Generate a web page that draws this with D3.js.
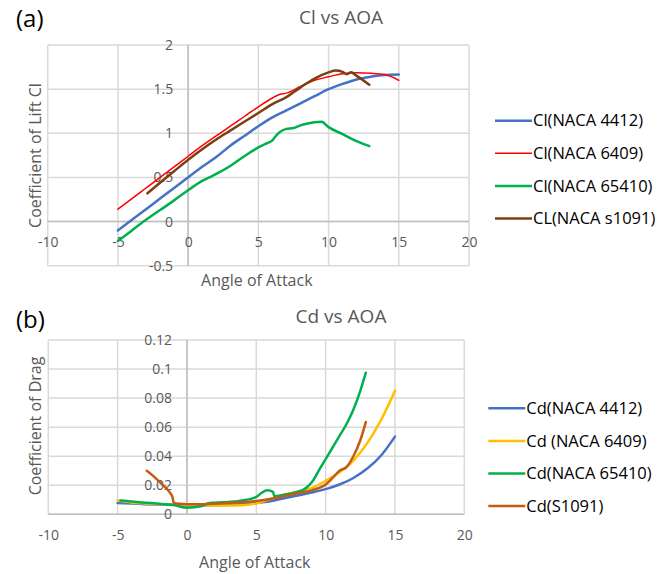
<!DOCTYPE html>
<html><head><meta charset="utf-8">
<script src="https://cdn.jsdelivr.net/npm/d3@7"></script>
<style>body{margin:0;background:#fff}svg{display:block;font-family:"Open Sans",sans-serif}</style>
</head><body><svg id="c" width="666" height="574"></svg>
<script>
// ---- tick labels ----
const xTicks = [-10, -5, 0, 5, 10, 15, 20];
const clTicks = [-0.5, 0, 0.5, 1, 1.5, 2];
const cdTicks = [0, 0.02, 0.04, 0.06, 0.08, 0.1, 0.12];

// ---- Cl series ----
const clNames = ["Cl(NACA 4412)", "Cl(NACA 6409)", "Cl(NACA 65410)", "CL(NACA s1091)"];
const aoa4412 = [-5,-4,-3,-2,-1,0,1,2,3,4,5,6,7,8,9,10,11,12,13,14,15];
const cl4412  = [-0.10,0.02,0.14,0.26,0.38,0.50,0.62,0.73,0.86,0.97,1.08,1.18,1.26,1.34,1.42,1.50,1.56,1.61,1.64,1.66,1.665];
const aoa6409 = [-5,-4,-3,-2,-1,0,1,2,3,4,5,6,6.5,7,8,9,10,11,12,13,14,15];
const cl6409  = [0.14,0.26,0.38,0.50,0.62,0.74,0.86,0.97,1.08,1.19,1.30,1.40,1.44,1.455,1.53,1.60,1.64,1.675,1.685,1.68,1.665,1.60];
const aoa65410 = [-5,-4,-3,-2,-1,0,1,1.5,2,3,4,5,5.5,6,6.2,6.5,7,7.5,8,8.5,9,9.5,10,11,12,12.9];
const cl65410  = [-0.22,-0.10,0.02,0.13,0.24,0.355,0.46,0.50,0.54,0.63,0.74,0.84,0.88,0.92,0.96,1.01,1.05,1.06,1.09,1.11,1.125,1.13,1.07,0.99,0.91,0.855];
const aoaS1091 = [-2.9,-2,-1,0,1,2,3,4,5,6,7,8,9,10,10.5,11,11.3,11.6,12,12.9];
const clS1091  = [0.32,0.44,0.57,0.70,0.82,0.93,1.03,1.13,1.23,1.33,1.41,1.52,1.62,1.69,1.71,1.695,1.67,1.69,1.65,1.55];

// ---- Cd series ----
const cdNames = ["Cd(NACA 4412)", "Cd (NACA 6409)", "Cd(NACA 65410)", "Cd(S1091)"];
const cdAoa4412 = [-5,-4,-3,-2,-1,0,1,2,3,4,5,6,7,8,9,10,11,12,13,14,15];
const cd4412    = [0.0078,0.0074,0.0070,0.0067,0.0064,0.0062,0.0062,0.0063,0.0066,0.0070,0.0078,0.0090,0.0110,0.0130,0.0150,0.0173,0.0205,0.0250,0.0315,0.0405,0.0535];
const cdAoa6409 = [-5,-4,-3,-2,-1,0,1,2,3,4,5,6,7,8,9,10,11,12,13,14,15];
const cd6409    = [0.0095,0.0082,0.0075,0.0070,0.0068,0.0066,0.0063,0.0060,0.0060,0.0063,0.0075,0.0105,0.0135,0.0155,0.0180,0.0230,0.0290,0.0370,0.0490,0.0650,0.0850];
const cdAoa65410 = [-4.8,-4,-3,-2,-1,0,1,1.5,2,3,4,5,5.5,5.8,6.2,6.3,7,8,8.5,9,9.5,10,10.5,11,11.5,12,12.5,12.9];
const cd65410    = [0.0095,0.0088,0.0080,0.0072,0.0065,0.0045,0.0055,0.0075,0.0080,0.0085,0.0095,0.0120,0.0155,0.0165,0.0155,0.0125,0.0135,0.0155,0.0175,0.0220,0.0300,0.0380,0.0460,0.0540,0.0620,0.0720,0.0850,0.0975];
const cdAoaS1091 = [-2.9,-2.5,-2,-1.5,-1.2,-1.05,-0.95,-0.5,0,1,2,3,4,5,6,7,8,9,10,10.5,11,11.5,12,12.5,12.9];
const cdS1091    = [0.0300,0.0270,0.0225,0.0180,0.0145,0.0120,0.0078,0.0072,0.0070,0.0070,0.0073,0.0078,0.0083,0.0092,0.0105,0.0125,0.0145,0.0165,0.0205,0.0250,0.0300,0.0325,0.0400,0.0510,0.0635];

const svg = d3.select("#c");
const grid = "#D9D9D9", txt = "#595959";

function chart(cfg) {
  const x = d3.scaleLinear().domain([-10, 20]).range([cfg.left, cfg.right]);
  const y = d3.scaleLinear().domain(cfg.yDomain).range([cfg.bottom, cfg.top]);
  const g = svg.append("g");
  // gridlines
  g.selectAll(".vx").data(xTicks).join("line")
    .attr("x1", d => x(d)).attr("x2", d => x(d)).attr("y1", cfg.top).attr("y2", cfg.bottom)
    .attr("stroke", grid).attr("stroke-width", 1.5);
  g.selectAll(".hy").data(cfg.yTicks).join("line")
    .attr("x1", cfg.left).attr("x2", cfg.right).attr("y1", d => y(d)).attr("y2", d => y(d))
    .attr("stroke", grid).attr("stroke-width", 1.5);
  // axis lines
  g.append("line").attr("x1", cfg.left).attr("x2", cfg.right).attr("y1", y(0)).attr("y2", y(0))
    .attr("stroke", "#BFBFBF").attr("stroke-width", 1.5);
  g.append("line").attr("x1", x(0)).attr("x2", x(0)).attr("y1", cfg.top).attr("y2", cfg.bottom)
    .attr("stroke", "#BFBFBF").attr("stroke-width", 1.5);
  // axes (labels only)
  const ax = g.append("g").attr("transform", `translate(0,${y(0)})`)
    .call(d3.axisBottom(x).tickValues(xTicks).tickSize(0).tickPadding(16).tickFormat(d => String(d)));
  const ay = g.append("g").attr("transform", `translate(${x(0)},0)`)
    .call(d3.axisLeft(y).tickValues(cfg.yTicks).tickSize(0).tickPadding(15).tickFormat(d => String(d)));
  [ax, ay].forEach(a => {
    a.select(".domain").remove();
    a.selectAll("text").attr("fill", txt).style("font-size", "14px").style("font-family", '"Open Sans",sans-serif');
  });
  // series
  const line = d3.line().x(d => x(d[0])).y(d => y(d[1])).curve(d3.curveMonotoneX);
  cfg.series.forEach(s => {
    g.append("path").datum(s.xs.map((v, i) => [v, s.ys[i]]))
      .attr("d", line).attr("fill", "none").attr("stroke", s.color)
      .attr("stroke-width", s.w).attr("stroke-linejoin", "round").attr("stroke-linecap", "round");
  });
  // titles
  g.append("text").attr("x", 341).attr("y", cfg.titleY).attr("text-anchor", "middle")
    .attr("fill", txt).style("font-size", "19px").text(cfg.title);
  g.append("text").attr("x", 16).attr("y", cfg.tagY).attr("fill", "#000")
    .style("font-size", "24px").text(cfg.tag);
  g.append("text").attr("x", x(5) - 1.5).attr("y", cfg.xTitleY).attr("text-anchor", "middle")
    .attr("fill", txt).style("font-size", "16px").text("Angle of Attack");
  g.append("text").attr("transform", `translate(40.5,${cfg.yTitleMid}) rotate(-90)`).attr("text-anchor", "middle")
    .attr("fill", txt).style("font-size", "16px").text(cfg.yTitle);
  // legend
  cfg.series.forEach((s, i) => {
    const ly = cfg.legY + i * cfg.legStep;
    g.append("line").attr("x1", cfg.legX).attr("x2", cfg.legX + 37).attr("y1", ly).attr("y2", ly)
      .attr("stroke", s.color).attr("stroke-width", s.w);
    g.append("text").attr("x", cfg.legX + 38).attr("y", ly).attr("dy", "0.35em")
      .attr("fill", "#000").style("font-size", "16.5px").text(s.name);
  });
}

chart({
  left: 47.7, right: 469, top: 45, bottom: 265.7, yDomain: [-0.5, 2], yTicks: clTicks,
  title: "Cl vs AOA", titleY: 24, tag: "(a)", tagY: 27, xTitleY: 286, yTitle: "Coefficient of Lift Cl", yTitleMid: 155.5,
  legX: 495, legY: 120.7, legStep: 32.6,
  series: [
    {name: clNames[0], xs: aoa4412, ys: cl4412, color: "#4472C4", w: 2.5},
    {name: clNames[1], xs: aoa6409, ys: cl6409, color: "#FF0000", w: 1.5},
    {name: clNames[2], xs: aoa65410, ys: cl65410, color: "#00B050", w: 2.5},
    {name: clNames[3], xs: aoaS1091, ys: clS1091, color: "#7B3F12", w: 2.5}
  ]
});

chart({
  left: 48.3, right: 464.3, top: 340, bottom: 514.3, yDomain: [0, 0.12], yTicks: cdTicks,
  title: "Cd vs AOA", titleY: 323.3, tag: "(b)", tagY: 328, xTitleY: 567.5, yTitle: "Coefficient of Drag", yTitleMid: 426,
  legX: 488.3, legY: 408.3, legStep: 32.6,
  series: [
    {name: cdNames[0], xs: cdAoa4412, ys: cd4412, color: "#4472C4", w: 2.5},
    {name: cdNames[1], xs: cdAoa6409, ys: cd6409, color: "#FFC000", w: 2.5},
    {name: cdNames[2], xs: cdAoa65410, ys: cd65410, color: "#00B050", w: 2.5},
    {name: cdNames[3], xs: cdAoaS1091, ys: cdS1091, color: "#C55A11", w: 2.5}
  ]
});
</script></body></html>
